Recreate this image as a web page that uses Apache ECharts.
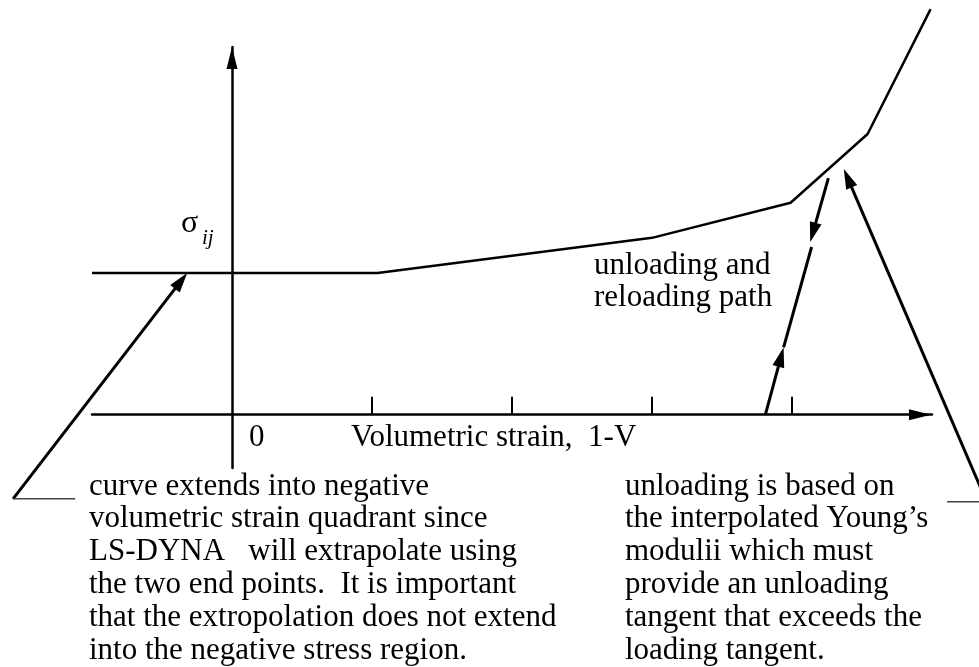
<!DOCTYPE html>
<html>
<head>
<meta charset="utf-8">
<script src="https://cdn.jsdelivr.net/npm/echarts@6/dist/echarts.min.js"></script>
<style>
  html, body { margin: 0; padding: 0; background: #fff; }
  #chart { width: 979px; height: 667px; }
</style>
</head>
<body>
<div id="chart"></div>
<script>
// Loading curve: stress vs. volumetric strain (1-V)
const strainPoints = [-1, 1.04, 3.0, 3.99, 4.54, 4.99];
const stressPoints = [1.01, 1.01, 1.26, 1.51, 2.0, 2.89];

// Tick marks along the strain axis and the origin label
const strainTicks = [1, 2, 3, 4];
const originLabel = '0';

// Unloading / reloading path segments: [x1, y1, x2, y2]
const unloadSegment = [4.26, 1.685, 4.13, 1.23];
const reloadLower = [3.81, 0, 3.94, 0.48];
const reloadUpper = [3.94, 0.48, 4.14, 1.195];

// Callout leader lines: [x1, y1, x2, y2]
const leftLeader = [-1.564, -0.60, -0.32, 1.01];
const rightLeader = [5.39, -0.62, 4.37, 1.75];
const leftLeaderFoot = [-1.564, -0.60, -1.12, -0.60];
const rightLeaderFoot = [5.107, -0.62, 5.49, -0.62];

// Annotation texts
const stressSymbol = 'σ';
const stressSubscript = 'ij';
const strainTitle = 'Volumetric strain,  1-V';
const pathNote = ['unloading and', 'reloading path'];
const leftNote = [
  'curve extends into negative',
  'volumetric strain quadrant since',
  'LS-DYNA   will extrapolate using',
  'the two end points.  It is important',
  'that the extropolation does not extend',
  'into the negative stress region.'
];
const rightNote = [
  'unloading is based on',
  'the interpolated Young\u2019s',
  'modulii which must',
  'provide an unloading',
  'tangent that exceeds the',
  'loading tangent.'
];

const SERIF = '"Liberation Serif", "Times New Roman", serif';
const FS = 31;

// segment with optional arrowhead at its second point
function renderSegment(width, color) {
  return function (params, api) {
    const p1 = api.coord([api.value(0), api.value(1)]);
    const p2 = api.coord([api.value(2), api.value(3)]);
    const head = api.value(4);
    const children = [];
    let end = p2;
    if (head) {
      const dx = p2[0] - p1[0], dy = p2[1] - p1[1];
      const len = Math.hypot(dx, dy);
      const ux = dx / len, uy = dy / len;
      const L = 20, W = 6;
      const bx = p2[0] - ux * L, by = p2[1] - uy * L;
      children.push({
        type: 'polygon',
        shape: { points: [p2, [bx - uy * W, by + ux * W], [bx + uy * W, by - ux * W]] },
        style: { fill: color }
      });
      end = [bx + ux * 2, by + uy * 2];
    }
    children.unshift({
      type: 'line',
      shape: { x1: p1[0], y1: p1[1], x2: end[0], y2: end[1] },
      style: { stroke: color, lineWidth: width, lineCap: 'butt' }
    });
    return { type: 'group', children: children };
  };
}

const arrowSegments = [
  unloadSegment.concat(1),
  reloadLower.concat(1),
  reloadUpper.concat(0),
  leftLeader.concat(1),
  rightLeader.concat(1)
];
const footSegments = [leftLeaderFoot.concat(0), rightLeaderFoot.concat(0)];

const arrowPath = 'path://M5,0L10,20L0,20Z';

const chart = echarts.init(document.getElementById('chart'));
chart.setOption({
  animation: false,
  backgroundColor: '#fff',
  grid: { left: 92, right: 47, top: 47, bottom: 199, containLabel: false, outerBoundsMode: 'none' },
  xAxis: {
    type: 'value', min: -1, max: 5, interval: 1,
    splitLine: { show: false },
    axisLine: {
      show: true, onZero: true,
      lineStyle: { color: '#000', width: 2.5 },
      symbol: ['none', arrowPath], symbolSize: [11, 24], symbolOffset: [0, -12]
    },
    axisTick: {
      show: true, inside: true, length: 18, customValues: strainTicks,
      lineStyle: { color: '#000', width: 2 }
    },
    axisLabel: { show: false }
  },
  yAxis: {
    type: 'value', min: -0.38, max: 2.62,
    splitLine: { show: false },
    axisLine: {
      show: true, onZero: true,
      lineStyle: { color: '#000', width: 2.5 },
      symbol: ['none', arrowPath], symbolSize: [11, 22], symbolOffset: [0, -11]
    },
    axisTick: { show: false },
    axisLabel: { show: false }
  },
  series: [
    {
      type: 'line',
      data: strainPoints.map((x, i) => [x, stressPoints[i]]),
      showSymbol: false, symbol: 'none', clip: false,
      lineStyle: { color: '#000', width: 2.5 }
    },
    {
      type: 'custom', clip: false,
      renderItem: renderSegment(3, '#000'),
      encode: { x: [0, 2], y: [1, 3] },
      data: arrowSegments
    },
    {
      type: 'custom', clip: false,
      renderItem: renderSegment(1.5, '#444'),
      encode: { x: [0, 2], y: [1, 3] },
      data: footSegments
    }
  ],
  graphic: [
    { type: 'text', x: 181, y: 224, style: { text: stressSymbol, font: '32px ' + SERIF, fill: '#000', textVerticalAlign: 'middle' } },
    { type: 'text', x: 202, y: 238, style: { text: stressSubscript, font: 'italic 21px ' + SERIF, fill: '#000', textVerticalAlign: 'middle' } },
    { type: 'text', x: 249, y: 438, style: { text: originLabel, font: FS + 'px ' + SERIF, fill: '#000', textVerticalAlign: 'middle' } },
    { type: 'text', x: 351, y: 438, style: { text: strainTitle, font: FS + 'px ' + SERIF, fill: '#000', textVerticalAlign: 'middle' } },
    { type: 'text', x: 594, y: 250.5, style: { text: pathNote.join('\n'), font: FS + 'px ' + SERIF, lineHeight: 31.5, fill: '#000', textVerticalAlign: 'top' } },
    { type: 'text', x: 89, y: 470, style: { text: leftNote.join('\n'), font: FS + 'px ' + SERIF, lineHeight: 32.8, fill: '#000', textVerticalAlign: 'top' } },
    { type: 'text', x: 625, y: 470, style: { text: rightNote.join('\n'), font: FS + 'px ' + SERIF, lineHeight: 32.8, fill: '#000', textVerticalAlign: 'top' } }
  ]
});
</script>
</body>
</html>
